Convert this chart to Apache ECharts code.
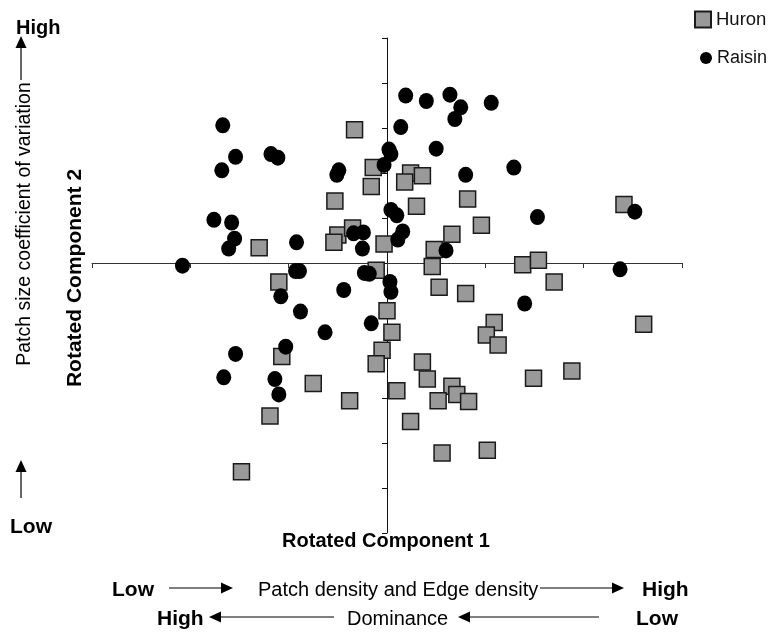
<!DOCTYPE html>
<html><head><meta charset="utf-8">
<script src="https://cdn.jsdelivr.net/npm/echarts@6/dist/echarts.min.js"></script>
<style>html,body{margin:0;padding:0;background:#fff}#c{width:769px;height:632px}</style>
</head><body><div id="c"></div>
<script>
const seriesNames = ['Huron', 'Raisin'];
const huronX = [-0.33,-0.14,-0.16,-0.53,-1.30,-0.50,-0.54,-0.35,-0.03,-0.11,-1.10,0.24,0.36,0.18,0.30,0.82,0.96,0.66,0.48,0.46,1.38,1.54,2.41,1.70,0.53,0.80,1.09,1.01,1.13,2.61,0.00,0.05,-0.05,-0.11,0.36,0.41,0.66,0.71,0.52,0.83,1.49,1.88,0.10,0.24,0.56,1.02,-1.07,-0.75,-0.38,-1.19,-1.48];
const huronY = [1.48,1.06,0.85,0.69,0.17,0.31,0.23,0.39,0.21,-0.08,-0.21,1.00,0.97,0.90,0.63,0.71,0.42,0.32,0.15,-0.04,-0.02,0.03,0.65,-0.21,-0.27,-0.34,-0.66,-0.80,-0.91,-0.68,-0.53,-0.77,-0.97,-1.12,-1.10,-1.29,-1.37,-1.46,-1.53,-1.54,-1.28,-1.20,-1.42,-1.76,-2.11,-2.08,-1.04,-1.34,-1.53,-1.70,-2.32];
const raisinX = [-1.67,-1.54,-1.68,-1.18,-1.11,-0.49,-0.51,-1.76,-1.58,-1.55,-1.61,-0.92,-2.08,-0.93,-0.89,-0.34,-0.24,-0.25,0.02,0.04,-0.03,0.04,0.10,0.16,0.11,-0.23,-0.18,0.19,0.40,0.64,0.75,0.69,1.06,0.14,0.50,1.29,0.80,1.53,2.52,0.60,2.37,1.40,0.03,0.04,-1.08,-0.88,-0.44,-0.63,-0.16,-1.54,-1.03,-1.66,-1.14,-1.10];
const raisinY = [1.53,1.18,1.03,1.21,1.17,1.03,0.98,0.48,0.45,0.27,0.16,0.23,-0.03,-0.09,-0.09,0.33,0.34,0.16,1.26,1.21,1.09,0.59,0.53,0.35,0.26,-0.11,-0.12,1.86,1.80,1.87,1.73,1.60,1.78,1.51,1.27,1.06,0.98,0.51,0.57,0.14,-0.07,-0.45,-0.21,-0.32,-0.37,-0.54,-0.30,-0.77,-0.67,-1.01,-0.93,-1.27,-1.29,-1.46];
const xRange = [-3, 3, 1];
const yRange = [-3, 2.5, 0.5];
const xAxisTitle = 'Rotated Component 1';
const yAxisTitle = 'Rotated Component 2';
const yNote = 'Patch size coefficient of variation';
const xNote1 = 'Patch density and Edge density';
const xNote2 = 'Dominance';

const zip = (a, b) => a.map((v, i) => [v, b[i]]);
const FONT = '"Liberation Sans", Arial, sans-serif';

function arrow(x1, y1, x2, y2) {
  const L = 12, W = 5.5;
  const dx = x2 - x1, dy = y2 - y1, len = Math.hypot(dx, dy);
  const ux = dx / len, uy = dy / len;
  const bx = x2 - ux * L, by = y2 - uy * L;
  return [
    { type: 'line', shape: { x1: x1, y1: y1, x2: bx, y2: by }, style: { stroke: '#000', lineWidth: 1.2 } },
    { type: 'polygon', shape: { points: [[x2, y2], [bx - uy * W, by + ux * W], [bx + uy * W, by - ux * W]] }, style: { fill: '#000' } }
  ];
}
function txt(t, x, y, size, bold, align, rot) {
  const o = { type: 'text', x: x, y: y, style: { text: t, font: (bold ? 'bold ' : '') + size + 'px ' + FONT, fill: '#000', textAlign: align || 'center', textVerticalAlign: 'middle' } };
  if (rot) o.rotation = rot;
  return o;
}

const graphics = [].concat(
  [txt(xAxisTitle, 386, 541, 20, true)],
  [txt(yAxisTitle, 75, 278, 21, true, 'center', Math.PI / 2)],
  [txt('High', 16, 28, 20, true, 'left')],
  arrow(21, 80, 21, 36),
  [txt(yNote, 25, 224, 19.5, false, 'center', Math.PI / 2)],
  arrow(21, 498, 21, 460),
  [txt('Low', 10, 527, 21, true, 'left')],
  [txt('Low', 112, 590, 21, true, 'left')],
  arrow(169, 588, 233, 588),
  [txt(xNote1, 258, 590, 20, false, 'left')],
  arrow(540, 588, 624, 588),
  [txt('High', 642, 590, 21, true, 'left')],
  [txt('High', 157, 619, 21, true, 'left')],
  arrow(334, 617, 209, 617),
  [txt(xNote2, 347, 619, 20, false, 'left')],
  arrow(599, 617, 458, 617),
  [txt('Low', 636, 619, 21, true, 'left')]
);

const chart = echarts.init(document.getElementById('c'));
chart.setOption({
  animation: false,
  backgroundColor: '#fff',
  grid: { left: 92, right: 87, top: 38, bottom: 99, containLabel: false },
  legend: [
    { data: [seriesNames[0]], left: 689, top: 5, itemWidth: 16, itemHeight: 16, selectedMode: false,
      textStyle: { fontSize: 18.5, color: '#111', fontFamily: FONT } },
    { data: [seriesNames[1]], left: 695, top: 44, itemWidth: 12, itemHeight: 12, selectedMode: false,
      textStyle: { fontSize: 18, color: '#111', fontFamily: FONT } }
  ],
  xAxis: {
    type: 'value', min: xRange[0], max: xRange[1], interval: xRange[2],
    axisLine: { onZero: true, lineStyle: { color: '#333', width: 1 } },
    axisTick: { show: true, length: 5, lineStyle: { color: '#333' } },
    axisLabel: { show: false }, splitLine: { show: false }
  },
  yAxis: {
    type: 'value', min: yRange[0], max: yRange[1], interval: yRange[2],
    axisLine: { onZero: true, lineStyle: { color: '#111', width: 1 } },
    axisTick: { show: true, length: 5, lineStyle: { color: '#111' } },
    axisLabel: { show: false }, splitLine: { show: false }
  },
  series: [
    { name: seriesNames[0], type: 'scatter', symbol: 'rect', symbolSize: 16, data: zip(huronX, huronY),
      itemStyle: { color: '#999', borderColor: '#1a1a1a', borderWidth: 1.5, opacity: 1 } },
    { name: seriesNames[1], type: 'scatter', symbol: 'circle', symbolSize: [15, 16], data: zip(raisinX, raisinY),
      itemStyle: { color: '#000', opacity: 1 } }
  ],
  graphic: graphics
});
</script></body></html>
